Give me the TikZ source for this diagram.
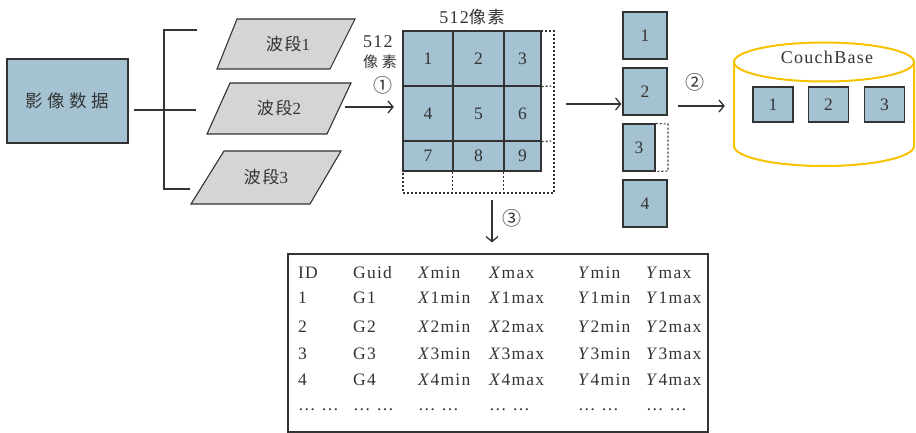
\documentclass[tikz,border=0pt]{standalone}
\usepackage{fontspec}
\setmainfont{Liberation Serif}[LetterSpace=7]
\newfontfamily\cjk[LetterSpace=10]{Noto Sans CJK SC}
\newfontfamily\cjkw[LetterSpace=25]{Noto Sans CJK SC}
\newfontfamily\circfont{Noto Sans CJK SC}
\usetikzlibrary{arrows.meta,calc}

\definecolor{tileblue}{HTML}{A4C2D1}
\definecolor{bandgray}{HTML}{D5D5D7}
\definecolor{ink}{HTML}{333333}
\definecolor{dbgold}{HTML}{F7C300}

\begin{document}
\begin{tikzpicture}[x=1pt,y=-1pt,
  every node/.style={text=ink, font=\fontsize{17.5}{20}\selectfont, inner sep=0pt},
  line/.style={draw=ink, line width=1.1pt},
  arr/.style={draw=ink, line width=1.3pt, -{Straight Barb[length=5pt,width=12pt,line width=1.3pt]}},
  tile/.style={draw=ink, fill=tileblue, line width=1.1pt},
  band/.style={draw=ink, fill=bandgray, line width=1.1pt},
  dots/.style={draw=ink, line width=1.1pt, dash pattern=on 2pt off 2pt},
  cell/.style={tile, anchor=center},
  tbltext/.style={anchor=base west, font=\fontsize{17.5}{20}\selectfont},
  circ/.style={font=\circfont\fontsize{19}{20}\selectfont}
]
\useasboundingbox (0,0) rectangle (916,433);

% source image block
\node[tile, minimum width=121pt, minimum height=84pt] (src) at (67.5,101) {\cjkw\fontsize{17.5}{18}\selectfont 影像数据};

% bracket splitting into bands
\coordinate (brT) at (164,30);
\coordinate (brM) at (164,110);
\coordinate (brB) at (164,189);
\coordinate (e1) at (197,30);
\coordinate (e2) at (196,110);
\coordinate (e3) at (190,189);
\draw[line, shorten <=5pt] (src.east |- brM) -- (brM);
\draw[line] (e1) -- (brT) -- (brB) -- (e3);
\draw[line] (brM) -- (e2);

% bands
\draw[band] (217,69) -- (237,19) -- (355,19) -- (330,69) -- cycle;
\node (b1) at (288,44) {\cjk\fontsize{17}{18}\selectfont 波段\rmfamily 1};
\draw[band] (207,134) -- (230,83) -- (351,83) -- (327,134) -- cycle;
\node (b2) at (279,108.5) {\cjk\fontsize{17}{18}\selectfont 波段\rmfamily 2};
\draw[band] (191,204) -- (224,151) -- (341,151) -- (310,204) -- cycle;
\node (b3) at (266,177.5) {\cjk\fontsize{17}{18}\selectfont 波段\rmfamily 3};

% tiling grid
\foreach \n/\cx/\cy/\w/\h in {1/428/58.5/50/55, 2/478.5/58.5/51/55, 3/522.5/58.5/37/55,
                               4/428/113.5/50/55, 5/478.5/113.5/51/55, 6/522.5/113.5/37/55,
                               7/428/156/50/30, 8/478.5/156/51/30, 9/522.5/156/37/30}
  \node[cell, minimum width=\w pt, minimum height=\h pt] (c\n) at (\cx,\cy) {\n};
\node[minimum width=138pt, minimum height=140pt] (grid) at (472,101) {};
\draw[dots] (541,31) -- (554,31) -- (554,193) -- (403,193) -- (403,171);
\draw[dots] (c8.south west) -- (c8.south west |- 0,193);
\draw[dots] (c9.south west) -- (c9.south west |- 0,193);
\draw[dots] (c3.south east) -- (551,86);
\draw[dots] (c6.south east) -- (551,141);

\node (wlab) at (472,17) {\fontsize{18}{20}\selectfont 512\cjk\fontsize{17}{18}\selectfont 像素};
\node (hlab1) at (378,42) {\fontsize{18}{20}\selectfont 512};
\node (hlab2) at (380,62) {\cjkw\fontsize{15}{16}\selectfont 像素};

% arrow 1: band -> grid
\coordinate (b2r) at (345,107);
\draw[arr, shorten >=9pt] (b2r) -- (b2r -| grid.west);
\node[circ] (n1) at (383,85) {①};

% arrow 3: grid -> index table
\coordinate (a3s) at (492,200);
\node[draw=ink, line width=1.2pt, minimum width=420pt, minimum height=178pt] (tbl) at (498,343) {};
\draw[arr, shorten >=11pt] (a3s) -- (a3s |- tbl.north);
\node[circ] (n3) at (512,218) {③};

% tiles
\node[tile, minimum width=44pt, minimum height=47pt] (t1) at (645,35.5) {1};
\node[tile, minimum width=44pt, minimum height=47pt] (t2) at (645,91.5) {2};
\node[tile, minimum width=32pt, minimum height=47pt] (t3) at (639,147.5) {3};
\draw[dots] (t3.north east) -- (668,124) -- (668,171) -- (t3.south east);
\node[tile, minimum width=44pt, minimum height=47pt] (t4) at (645,203.5) {4};

\coordinate (a0s) at (566,104);
\draw[arr, shorten >=1pt] (a0s) -- (a0s -| t2.west);

% CouchBase store
\node[minimum width=180pt, minimum height=124pt] (cyl) at (824,104) {};
\draw[draw=dbgold, line width=2pt] (734,62) -- (734,146)
  arc[start angle=180, end angle=0, x radius=90, y radius=20] -- (914,62);
\draw[draw=dbgold, line width=2pt] (824,62) ellipse [x radius=90, y radius=19.5];
\node (cb) at (827,57) {\fontsize{18}{20}\selectfont CouchBase};
\node[tile, minimum width=40pt, minimum height=35pt] (s1) at (773,104.5) {1};
\node[tile, minimum width=40pt, minimum height=35pt] (s2) at (828.5,104.5) {2};
\node[tile, minimum width=40pt, minimum height=35pt] (s3) at (884.5,104.5) {3};

\coordinate (a2s) at (678,106);
\draw[arr, shorten >=9pt] (a2s) -- (a2s -| cyl.west);
\node[circ] (n2) at (695,82) {②};

% index table contents
\foreach \r/\y/\a/\b/\cc/\d/\e/\f in {
   0/278/ID/Guid/\textit{X}min/\textit{X}max/\textit{Y}min/\textit{Y}max,
   1/303/1/G1/\textit{X}1min/\textit{X}1max/\textit{Y}1min/\textit{Y}1max,
   2/332/2/G2/\textit{X}2min/\textit{X}2max/\textit{Y}2min/\textit{Y}2max,
   3/359/3/G3/\textit{X}3min/\textit{X}3max/\textit{Y}3min/\textit{Y}3max,
   4/385/4/G4/\textit{X}4min/\textit{X}4max/\textit{Y}4min/\textit{Y}4max,
   5/410/… …/… …/… …/… …/… …/… …}{
  \node[tbltext] (r\r c1) at (298,\y) {\a};
  \node[tbltext] (r\r c2) at (353,\y) {\b};
  \node[tbltext] (r\r c3) at (418,\y) {\cc};
  \node[tbltext] (r\r c4) at (489,\y) {\d};
  \node[tbltext] (r\r c5) at (578,\y) {\e};
  \node[tbltext] (r\r c6) at (646,\y) {\f};
}
\end{tikzpicture}
\end{document}
